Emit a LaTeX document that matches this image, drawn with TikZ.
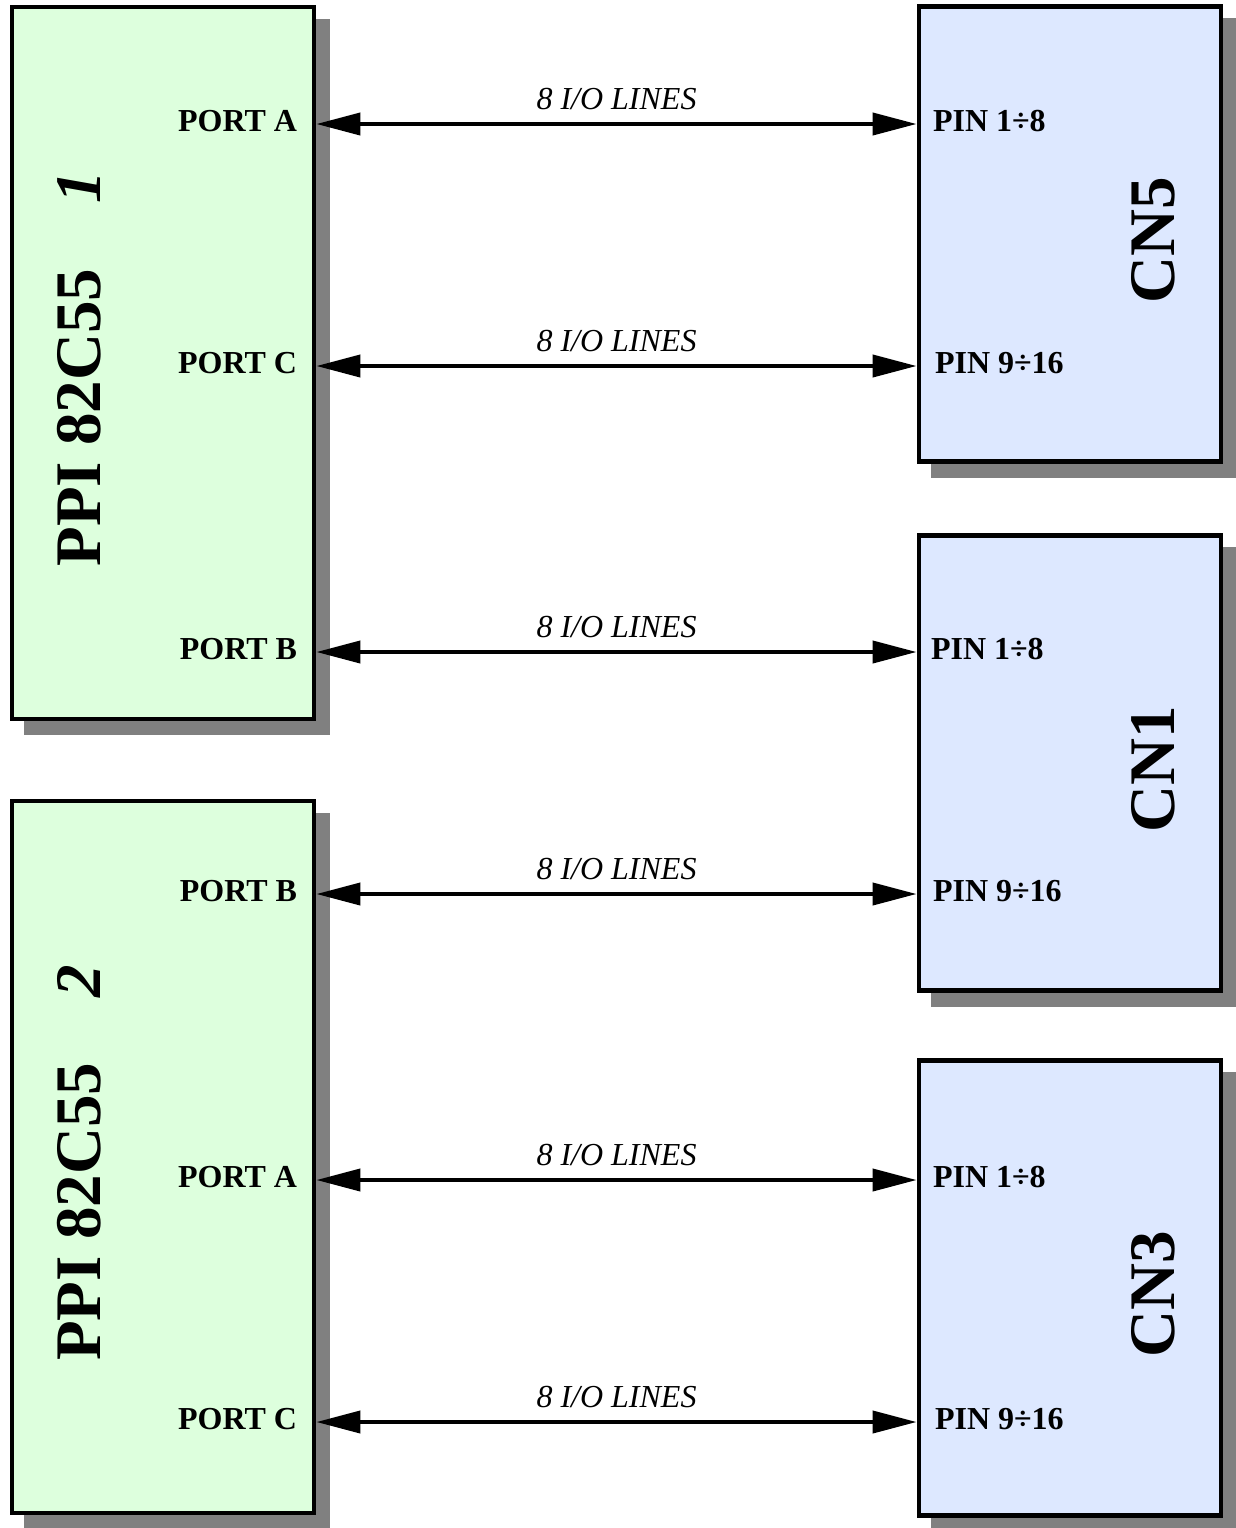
\documentclass[tikz,border=0pt]{standalone}
\usepackage{fontspec}
\setmainfont{Liberation Serif}
\usetikzlibrary{positioning, arrows.meta, shadows}

\definecolor{ppigreen}{RGB}{221,255,221}
\definecolor{cnblue}{RGB}{221,232,255}
\definecolor{shadowgray}{RGB}{128,128,128}

\begin{document}
\begin{tikzpicture}[x=0.5pt, y=-0.5pt,
    box/.style={draw, line width=2.4pt, inner sep=0pt, minimum width=151pt,
      drop shadow={shadow xshift=7pt, shadow yshift=-7pt, fill=shadowgray, draw=shadowgray, line width=2.4pt, opacity=1}},
    ppibox/.style={box, fill=ppigreen, minimum height=356pt},
    cnbox/.style={box, fill=cnblue, minimum height=227.5pt},
    chipname/.style={rotate=90, inner sep=0pt, font=\fontsize{32.5}{38}\selectfont\bfseries},
    portlabel/.style={inner sep=0pt, font=\fontsize{16}{19}\selectfont\bfseries},
    iolabel/.style={midway, above=6pt, inner sep=0pt, font=\fontsize{16}{19}\selectfont\itshape},
    ioline/.style={line width=2pt, {Triangle[length=22pt, width=11pt]}-{Triangle[length=22pt, width=11pt]}}]
  \useasboundingbox (0,0) rectangle (1236,1528);

  % the two PPI chips
  \node[ppibox] (ppiA) at (163,363) {};
  \node[ppibox] (ppiB) at (163,1157) {};
  \node[chipname] (nameA) at ([xshift=35pt, yshift=-3pt]ppiA.west) {PPI 82C55\quad\textit{1}};
  \node[chipname] (nameB) at ([xshift=35pt, yshift=-3pt]ppiB.west) {PPI 82C55\quad\textit{2}};

  % connectors
  \node[cnbox] (cnV) at (1070,234) {};
  \node[cnbox] (cnI) at (1070,763) {};
  \node[cnbox] (cnIII) at (1070,1288) {};
  \node[chipname] (nameV) at ([xshift=-35pt, yshift=-3pt]cnV.east) {CN5};
  \node[chipname] (nameI) at ([xshift=-35pt, yshift=-3pt]cnI.east) {CN1};
  \node[chipname] (nameIII) at ([xshift=-35pt, yshift=-3pt]cnIII.east) {CN3};

  % port ends
  \coordinate (pA1) at (ppiA.east |- 0,124);
  \coordinate (pC1) at (ppiA.east |- 0,366);
  \coordinate (pB1) at (ppiA.east |- 0,652);
  \coordinate (pB2) at (ppiB.east |- 0,894);
  \coordinate (pA2) at (ppiB.east |- 0,1180);
  \coordinate (pC2) at (ppiB.east |- 0,1422);
  \coordinate (cnVlo) at (cnV.west |- pA1);
  \coordinate (cnVhi) at (cnV.west |- pC1);
  \coordinate (cnIlo) at (cnI.west |- pB1);
  \coordinate (cnIhi) at (cnI.west |- pB2);
  \coordinate (cnIIIlo) at (cnIII.west |- pA2);
  \coordinate (cnIIIhi) at (cnIII.west |- pC2);

  \node[portlabel, above left=1.5pt and 9.5pt of pA1, anchor=east] (lA1) {PORT A};
  \node[portlabel, above left=1.5pt and 9.5pt of pC1, anchor=east] (lC1) {PORT C};
  \node[portlabel, above left=1.5pt and 9.5pt of pB1, anchor=east] (lB1) {PORT B};
  \node[portlabel, above left=1.5pt and 9.5pt of pB2, anchor=east] (lB2) {PORT B};
  \node[portlabel, above left=1.5pt and 9.5pt of pA2, anchor=east] (lA2) {PORT A};
  \node[portlabel, above left=1.5pt and 9.5pt of pC2, anchor=east] (lC2) {PORT C};

  \node[portlabel, above right=1.5pt and 8pt of cnVlo, anchor=west] (lVlo) {PIN 1÷8};
  \node[portlabel, above right=1.5pt and 9pt of cnVhi, anchor=west] (lVhi) {PIN 9÷16};
  \node[portlabel, above right=1.5pt and 7pt of cnIlo, anchor=west] (lIlo) {PIN 1÷8};
  \node[portlabel, above right=1.5pt and 8pt of cnIhi, anchor=west] (lIhi) {PIN 9÷16};
  \node[portlabel, above right=1.5pt and 8pt of cnIIIlo, anchor=west] (lIIIlo) {PIN 1÷8};
  \node[portlabel, above right=1.5pt and 9pt of cnIIIhi, anchor=west] (lIIIhi) {PIN 9÷16};

  % I/O buses
  \draw[ioline] (pA1) -- (cnVlo) node[iolabel] {8 I/O LINES};
  \draw[ioline] (pC1) -- (cnVhi) node[iolabel] {8 I/O LINES};
  \draw[ioline] (pB1) -- (cnIlo) node[iolabel] {8 I/O LINES};
  \draw[ioline] (pB2) -- (cnIhi) node[iolabel] {8 I/O LINES};
  \draw[ioline] (pA2) -- (cnIIIlo) node[iolabel] {8 I/O LINES};
  \draw[ioline] (pC2) -- (cnIIIhi) node[iolabel] {8 I/O LINES};
\end{tikzpicture}
\end{document}
